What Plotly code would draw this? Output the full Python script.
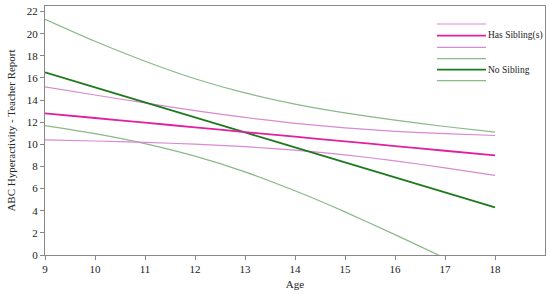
import plotly.graph_objects as go

ages = [9, 10, 11, 12, 13, 14, 15, 16, 17, 18]

# Has Sibling(s): fitted line and CI band
sib_mean = [12.80, 12.38, 11.96, 11.53, 11.11, 10.69, 10.27, 9.84, 9.42, 9.00]
sib_upper = [15.20, 14.46, 13.74, 13.05, 12.43, 11.90, 11.49, 11.17, 10.96, 10.80]
sib_lower = [10.40, 10.30, 10.18, 10.01, 9.79, 9.48, 9.05, 8.51, 7.88, 7.20]

# No Sibling: fitted line and CI band
nosib_mean = [16.50, 15.14, 13.79, 12.43, 11.08, 9.72, 8.37, 7.01, 5.66, 4.30]
nosib_upper = [21.30, 19.31, 17.51, 15.93, 14.65, 13.64, 12.84, 12.18, 11.61, 11.10]
nosib_lower = [11.70, 10.97, 10.07, 8.93, 7.51, 5.80, 3.90, 1.84, -0.29, -2.50]

x_ticks = [9, 10, 11, 12, 13, 14, 15, 16, 17, 18]
y_ticks = [0, 2, 4, 6, 8, 10, 12, 14, 16, 18, 20, 22]

PINK_DARK = "#e0209f"
PINK_LIGHT = "#d88ad0"
GREEN_DARK = "#1e7a1e"
GREEN_LIGHT = "#8ab88a"

fig = go.Figure()
series = [
    (nosib_upper, GREEN_LIGHT, 1.2),
    (nosib_lower, GREEN_LIGHT, 1.2),
    (sib_upper, PINK_LIGHT, 1.2),
    (sib_lower, PINK_LIGHT, 1.2),
    (nosib_mean, GREEN_DARK, 1.8),
    (sib_mean, PINK_DARK, 1.8),
]
for ys, col, w in series:
    fig.add_trace(go.Scatter(x=ages, y=ys, mode="lines",
                             line=dict(color=col, width=w, shape="spline", smoothing=0.6),
                             showlegend=False, hoverinfo="skip"))

# hand-drawn legend, top right
W, H = 550, 294
ml, mr, mt, mb = 45, 5, 6, 39
pw, ph = W - ml - mr, H - mt - mb
def px(x):
    return (x - ml) / pw
def py(y):
    return 1 - (y - mt) / ph

legend_rows = [
    (24, PINK_LIGHT, 1.2, None),
    (35.7, PINK_DARK, 1.8, "Has Sibling(s)"),
    (47.3, PINK_LIGHT, 1.2, None),
    (58.7, GREEN_LIGHT, 1.2, None),
    (69.7, GREEN_DARK, 1.8, "No Sibling"),
    (80.7, GREEN_LIGHT, 1.2, None),
]
for yy, col, w, label in legend_rows:
    fig.add_shape(type="line", xref="paper", yref="paper",
                  x0=px(437), x1=px(486), y0=py(yy), y1=py(yy),
                  line=dict(color=col, width=w))
    if label:
        fig.add_annotation(xref="paper", yref="paper", x=px(486), y=py(yy),
                           text=label, showarrow=False, xanchor="left", yanchor="middle",
                           font=dict(family="Liberation Serif", size=9.5, color="#222"))

axis_common = dict(showline=True, linecolor="#888", linewidth=1, mirror=True,
                   ticks="outside", ticklen=4, tickcolor="#888", showgrid=False,
                   zeroline=False, tickfont=dict(family="Liberation Serif", size=11, color="#222"))

fig.update_xaxes(range=[9, 19], tickvals=x_ticks, title=dict(text="Age", standoff=6,
                 font=dict(family="Liberation Serif", size=11, color="#222")), **axis_common)
fig.update_yaxes(range=[0, 22.5], tickvals=y_ticks,
                 title=dict(text="ABC Hyperactivity - Teacher Report", standoff=8,
                            font=dict(family="Liberation Serif", size=11, color="#222")),
                 **axis_common)

fig.update_layout(width=W, height=H, margin=dict(l=ml, r=mr, t=mt, b=mb),
                  plot_bgcolor="white", paper_bgcolor="white")

fig.write_html("out.html", config={"displayModeBar": False},
               post_script="document.body.style.margin='0';")
